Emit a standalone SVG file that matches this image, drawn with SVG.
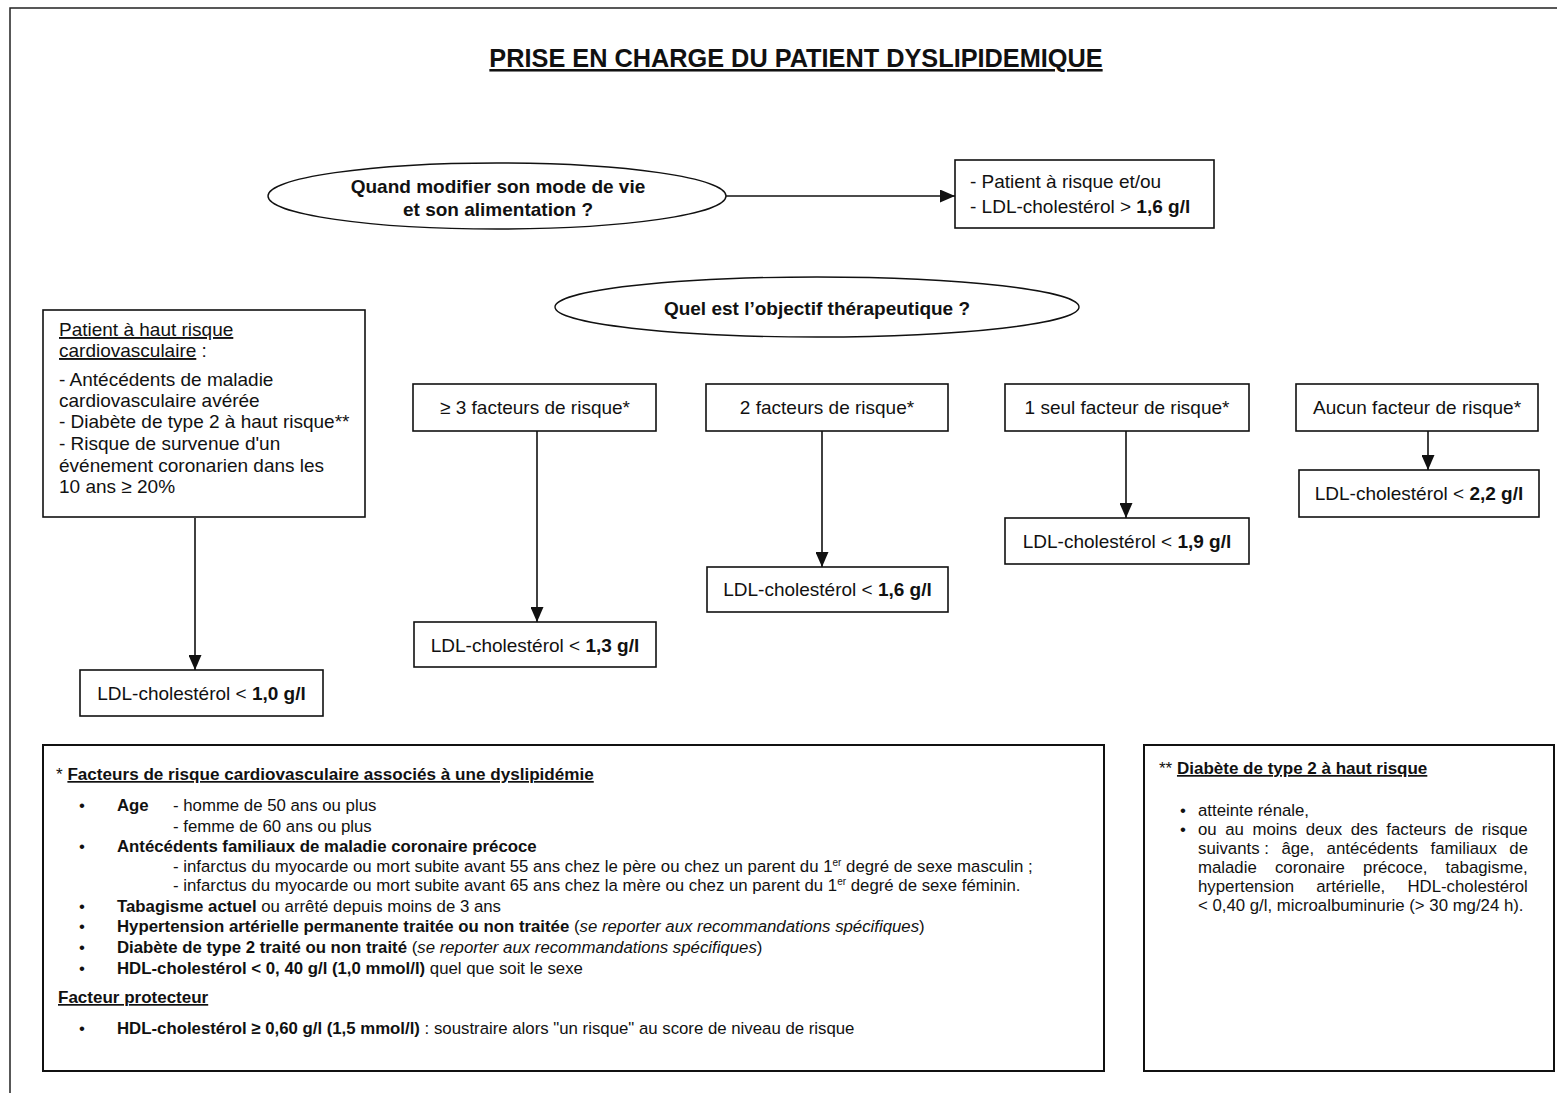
<svg xmlns="http://www.w3.org/2000/svg" width="1557" height="1093" viewBox="0 0 1557 1093">
<style>
text{font-family:"Liberation Sans",Arial,sans-serif;fill:#111}
.d{font-size:19px}
.s{font-size:16.8px}
.b{font-weight:bold}
.i{font-style:italic}
.u{text-decoration:underline}
.m{text-anchor:middle}
.box{fill:#fff;stroke:#111;stroke-width:1.6}
.ell{fill:#fff;stroke:#111;stroke-width:1.4}
.con{stroke:#111;stroke-width:1.6;fill:none;marker-end:url(#arr)}
</style>
<defs>
<marker id="arr" viewBox="0 0 10 10" refX="10" refY="5" markerWidth="15" markerHeight="13" markerUnits="userSpaceOnUse" orient="auto" preserveAspectRatio="none">
<path d="M0,0 L10,5 L0,10 z" fill="#111"/>
</marker>
</defs>
<rect width="1557" height="1093" fill="#fff"/>
<path d="M10,1093 L10,8 L1557,8" fill="none" stroke="#222" stroke-width="1.5"/>

<g id="title">
<text x="796" y="67" class="b m u" style="font-size:25.3px">PRISE EN CHARGE DU PATIENT DYSLIPIDEMIQUE</text>
</g>

<g id="connectors">
<line class="con" x1="726" y1="196" x2="955" y2="196"/>
<line class="con" x1="195" y1="518" x2="195" y2="670"/>
<line class="con" x1="537" y1="431" x2="537" y2="622"/>
<line class="con" x1="822" y1="431" x2="822" y2="567"/>
<line class="con" x1="1126" y1="431" x2="1126" y2="518"/>
<line class="con" x1="1428" y1="431" x2="1428" y2="470"/>
</g>

<g id="q-mode-de-vie">
<ellipse class="ell" cx="497" cy="196" rx="229" ry="33"/>
<text x="498" y="193" class="d b m">Quand modifier son mode de vie</text>
<text x="498" y="216" class="d b m">et son alimentation ?</text>
</g>

<g id="patient-a-risque">
<rect class="box" x="955" y="160" width="259" height="68"/>
<text x="970" y="188" class="d">- Patient à risque et/ou</text>
<text x="970" y="213" class="d">- LDL-cholestérol &gt; <tspan class="b">1,6 g/l</tspan></text>
</g>

<g id="q-objectif">
<ellipse class="ell" cx="817" cy="307" rx="262" ry="30"/>
<text x="817" y="315" class="d b m">Quel est l’objectif thérapeutique ?</text>
</g>

<g id="haut-risque">
<rect class="box" x="43" y="310" width="322" height="207"/>
<text x="59" y="336" class="d"><tspan class="u">Patient à haut risque</tspan></text>
<text x="59" y="357" class="d"><tspan class="u">cardiovasculaire</tspan> :</text>
<text x="59" y="386" class="d">- Antécédents de maladie</text>
<text x="59" y="407" class="d">cardiovasculaire avérée</text>
<text x="59" y="428" class="d">- Diabète de type 2 à haut risque**</text>
<text x="59" y="450" class="d">- Risque de survenue d'un</text>
<text x="59" y="472" class="d">événement coronarien dans les</text>
<text x="59" y="493" class="d">10 ans ≥ 20%</text>
</g>

<g id="ldl-10">
<rect class="box" x="80" y="670" width="243" height="46"/>
<text x="201.5" y="700" class="d m">LDL-cholestérol &lt; <tspan class="b">1,0 g/l</tspan></text>
</g>

<g id="f3">
<rect class="box" x="413" y="384" width="243" height="47"/>
<text x="535" y="414" class="d m">≥ 3 facteurs de risque*</text>
</g>
<g id="ldl-13">
<rect class="box" x="414" y="622" width="242" height="45"/>
<text x="535" y="652" class="d m">LDL-cholestérol &lt; <tspan class="b">1,3 g/l</tspan></text>
</g>

<g id="f2">
<rect class="box" x="706" y="384" width="242" height="47"/>
<text x="827" y="414" class="d m">2 facteurs de risque*</text>
</g>
<g id="ldl-16">
<rect class="box" x="707" y="567" width="241" height="45"/>
<text x="827.5" y="596" class="d m">LDL-cholestérol &lt; <tspan class="b">1,6 g/l</tspan></text>
</g>

<g id="f1">
<rect class="box" x="1005" y="384" width="244" height="47"/>
<text x="1127" y="414" class="d m">1 seul facteur de risque*</text>
</g>
<g id="ldl-19">
<rect class="box" x="1005" y="518" width="244" height="46"/>
<text x="1127" y="548" class="d m">LDL-cholestérol &lt; <tspan class="b">1,9 g/l</tspan></text>
</g>

<g id="f0">
<rect class="box" x="1296" y="384" width="242" height="47"/>
<text x="1417" y="414" class="d m">Aucun facteur de risque*</text>
</g>
<g id="ldl-22">
<rect class="box" x="1299" y="470" width="240" height="47"/>
<text x="1419" y="500" class="d m">LDL-cholestérol &lt; <tspan class="b">2,2 g/l</tspan></text>
</g>

<g id="facteurs">
<rect class="box" x="43" y="745" width="1061" height="326" style="stroke-width:2"/>
<text x="56" y="780" style="font-size:17.1px">* <tspan class="b u">Facteurs de risque cardiovasculaire associés à une dyslipidémie</tspan></text>
<text x="79" y="811" class="s">•</text>
<text x="117" y="811" class="s b">Age</text>
<text x="173" y="811" class="s">- homme de 50 ans ou plus</text>
<text x="173" y="832" class="s">- femme de 60 ans ou plus</text>
<text x="79" y="852" class="s">•</text>
<text x="117" y="852" class="s b">Antécédents familiaux de maladie coronaire précoce</text>
<text x="173" y="872" class="s">- infarctus du myocarde ou mort subite avant 55 ans chez le père ou chez un parent du 1<tspan dy="-6" style="font-size:10px">er</tspan><tspan dy="6"> degré de sexe masculin ;</tspan></text>
<text x="173" y="891" class="s">- infarctus du myocarde ou mort subite avant 65 ans chez la mère ou chez un parent du 1<tspan dy="-6" style="font-size:10px">er</tspan><tspan dy="6"> degré de sexe féminin.</tspan></text>
<text x="79" y="912" class="s">•</text>
<text x="117" y="912" class="s"><tspan class="b">Tabagisme actuel</tspan> ou arrêté depuis moins de 3 ans</text>
<text x="79" y="932" class="s">•</text>
<text x="117" y="932" class="s"><tspan class="b">Hypertension artérielle permanente traitée ou non traitée</tspan> (<tspan class="i">se reporter aux recommandations spécifiques</tspan>)</text>
<text x="79" y="953" class="s">•</text>
<text x="117" y="953" class="s"><tspan class="b">Diabète de type 2 traité ou non traité</tspan> (<tspan class="i">se reporter aux recommandations spécifiques</tspan>)</text>
<text x="79" y="974" class="s">•</text>
<text x="117" y="974" class="s"><tspan class="b">HDL-cholestérol &lt; 0, 40 g/l (1,0 mmol/l)</tspan> quel que soit le sexe</text>
<text x="58" y="1003" class="b u" style="font-size:17px">Facteur protecteur</text>
<text x="79" y="1034" class="s">•</text>
<text x="117" y="1034" class="s"><tspan class="b">HDL-cholestérol ≥ 0,60 g/l (1,5 mmol/l)</tspan> : soustraire alors "un risque" au score de niveau de risque</text>
</g>

<g id="diabete">
<rect class="box" x="1144" y="745" width="410" height="326" style="stroke-width:2"/>
<text x="1159" y="774" style="font-size:17px">** <tspan class="b u">Diabète de type 2 à haut risque</tspan></text>
<text x="1180" y="816" class="s">•</text>
<text x="1198" y="816" class="s">atteinte rénale,</text>
<text x="1180" y="835" class="s">•</text>
<text x="1198" y="835" class="s" style="word-spacing:3.9px">ou au moins deux des facteurs de risque</text>
<text y="854" class="s"><tspan x="1198">suivants :</tspan><tspan x="1281.4">âge,</tspan><tspan x="1326.6">antécédents</tspan><tspan x="1430.6">familiaux</tspan></text>
<text x="1528" y="854" class="s" text-anchor="end">de</text>
<text x="1198" y="873" class="s" style="word-spacing:13.5px">maladie coronaire précoce, tabagisme,</text>
<text x="1198" y="892" class="s" style="word-spacing:17.5px">hypertension artérielle, HDL-cholestérol</text>
<text x="1198" y="911" class="s">&lt; 0,40 g/l, microalbuminurie (&gt; 30 mg/24 h).</text>
</g>
</svg>
